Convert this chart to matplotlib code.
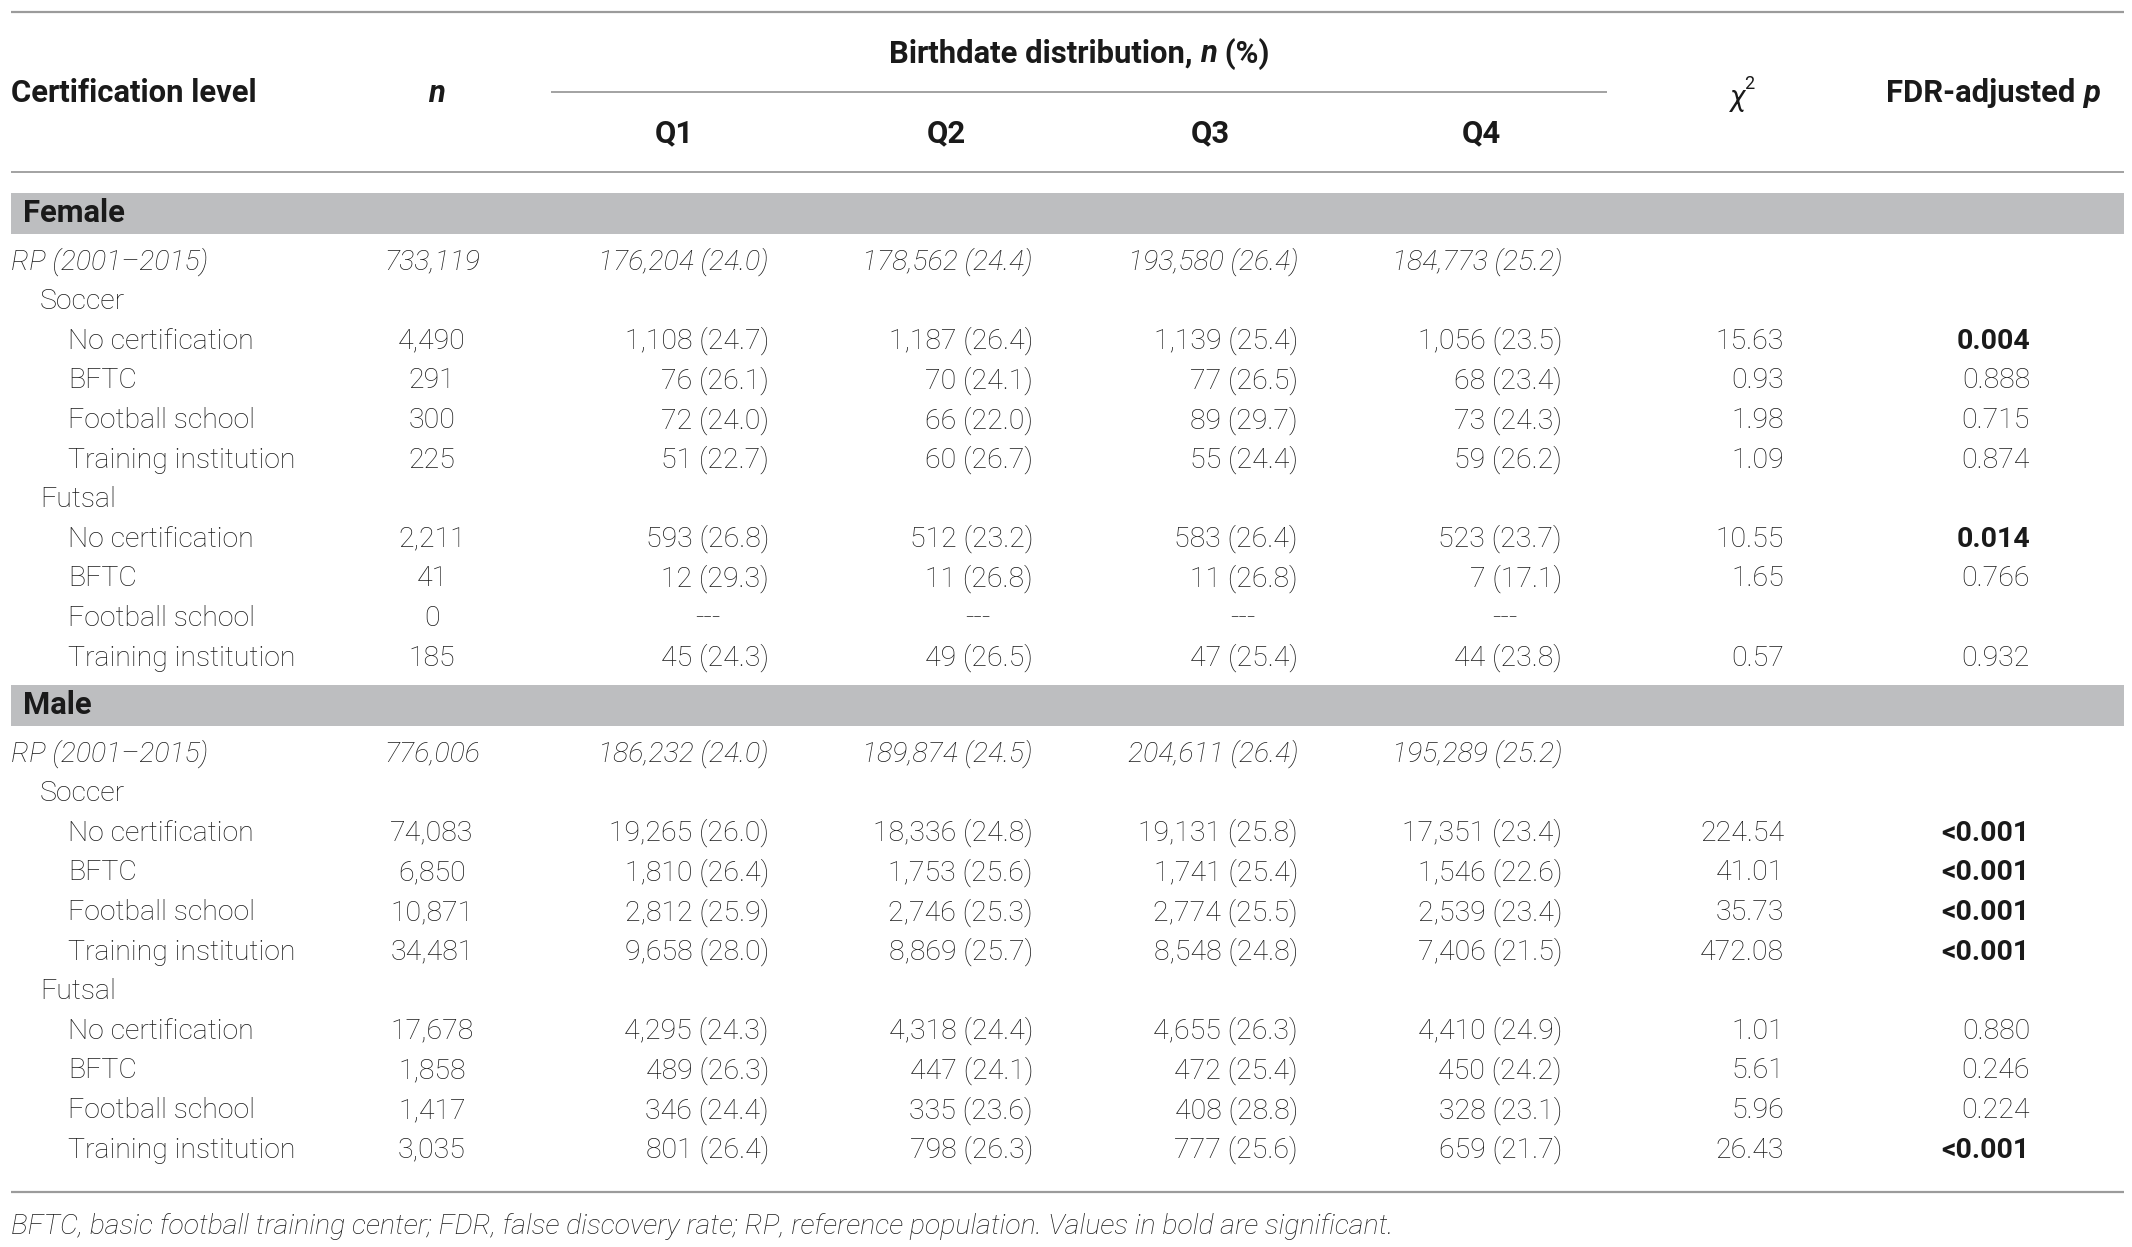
import matplotlib
matplotlib.use("Agg")
import matplotlib.pyplot as plt

# ---- table data ----
col_headers = ["Q1", "Q2", "Q3", "Q4"]

sections = ["Female", "Male"]

row_labels = ["RP (2001\u20132015)", "Soccer", "No certification", "BFTC", "Football school",
              "Training institution", "Futsal", "No certification", "BFTC", "Football school",
              "Training institution"]
row_indent = [0, 1, 2, 2, 2, 2, 1, 2, 2, 2, 2]

female_n = ["733,119", "", "4,490", "291", "300", "225", "", "2,211", "41", "0", "185"]
female_q1 = ["176,204 (24.0)", "", "1,108 (24.7)", "76 (26.1)", "72 (24.0)", "51 (22.7)", "",
             "593 (26.8)", "12 (29.3)", "---", "45 (24.3)"]
female_q2 = ["178,562 (24.4)", "", "1,187 (26.4)", "70 (24.1)", "66 (22.0)", "60 (26.7)", "",
             "512 (23.2)", "11 (26.8)", "---", "49 (26.5)"]
female_q3 = ["193,580 (26.4)", "", "1,139 (25.4)", "77 (26.5)", "89 (29.7)", "55 (24.4)", "",
             "583 (26.4)", "11 (26.8)", "---", "47 (25.4)"]
female_q4 = ["184,773 (25.2)", "", "1,056 (23.5)", "68 (23.4)", "73 (24.3)", "59 (26.2)", "",
             "523 (23.7)", "7 (17.1)", "---", "44 (23.8)"]
female_chi = ["", "", "15.63", "0.93", "1.98", "1.09", "", "10.55", "1.65", "", "0.57"]
female_p = ["", "", "0.004", "0.888", "0.715", "0.874", "", "0.014", "0.766", "", "0.932"]
female_sig = [False, False, True, False, False, False, False, True, False, False, False]

male_n = ["776,006", "", "74,083", "6,850", "10,871", "34,481", "", "17,678", "1,858", "1,417", "3,035"]
male_q1 = ["186,232 (24.0)", "", "19,265 (26.0)", "1,810 (26.4)", "2,812 (25.9)", "9,658 (28.0)", "",
           "4,295 (24.3)", "489 (26.3)", "346 (24.4)", "801 (26.4)"]
male_q2 = ["189,874 (24.5)", "", "18,336 (24.8)", "1,753 (25.6)", "2,746 (25.3)", "8,869 (25.7)", "",
           "4,318 (24.4)", "447 (24.1)", "335 (23.6)", "798 (26.3)"]
male_q3 = ["204,611 (26.4)", "", "19,131 (25.8)", "1,741 (25.4)", "2,774 (25.5)", "8,548 (24.8)", "",
           "4,655 (26.3)", "472 (25.4)", "408 (28.8)", "777 (25.6)"]
male_q4 = ["195,289 (25.2)", "", "17,351 (23.4)", "1,546 (22.6)", "2,539 (23.4)", "7,406 (21.5)", "",
           "4,410 (24.9)", "450 (24.2)", "328 (23.1)", "659 (21.7)"]
male_chi = ["", "", "224.54", "41.01", "35.73", "472.08", "", "1.01", "5.61", "5.96", "26.43"]
male_p = ["", "", "<0.001", "<0.001", "<0.001", "<0.001", "", "0.880", "0.246", "0.224", "<0.001"]
male_sig = [False, False, True, True, True, True, False, False, False, False, True]

footnote = ("BFTC, basic football training center; FDR, false discovery rate; "
            "RP, reference population. Values in bold are significant.")

# ---- layout ----
W, H = 2132, 1247
FONT = ["Roboto", "DejaVu Sans"]
FS = 20.5      # body text
FS_HEAD = 22.3 # column headers and section names
TXT = "#1a1a1a"
RULE = "#9b9b9b"
BAND = "#bdbec0"

fig = plt.figure(figsize=(W / 100, H / 100), dpi=100)
ax = fig.add_axes([0, 0, 1, 1])
ax.set_xlim(0, W)
ax.set_ylim(H, 0)
ax.axis("off")

x_left = 11
x_right = 2124
indent_px = [11, 40, 68]
x_n = 432
q_right = [769, 1033, 1298, 1562]
q_head = [674, 946, 1210, 1481]
q_dash = [708, 978, 1243, 1505]
x_chi = 1784
x_p = 2030

def txt(x, y, s, ha="left", weight="light", style="normal", size=FS):
    return ax.text(x, y, s, ha=ha, va="center", fontsize=size, family=FONT,
                   fontweight=weight, fontstyle=style, color=TXT)

renderer = fig.canvas.get_renderer()

def runs(x, y, parts, ha="center", size=FS_HEAD):
    # parts: list of (text, weight, style); placed one after another
    objs = [txt(0, y, p[0], weight=p[1], style=p[2], size=size) for p in parts]
    widths = [o.get_window_extent(renderer).width for o in objs]
    total = sum(widths)
    start = x - total / 2 if ha == "center" else (x - total if ha == "right" else x)
    for o, w in zip(objs, widths):
        o.set_x(start)
        start += w

# rules
ax.plot([x_left, x_right], [12, 12], color=RULE, lw=1.6, solid_capstyle="butt")
ax.plot([551, 1607], [92, 92], color=RULE, lw=1.3, solid_capstyle="butt")
ax.plot([x_left, x_right], [172, 172], color=RULE, lw=1.3, solid_capstyle="butt")
ax.plot([x_left, x_right], [1192, 1192], color=RULE, lw=1.6, solid_capstyle="butt")

# header
txt(x_left, 93, "Certification level", weight="bold", size=FS_HEAD)
txt(x_n + 4, 93, "n", ha="center", weight="bold", style="italic", size=FS_HEAD)
runs(1079, 54, [("Birthdate distribution, ", "bold", "normal"), ("n", "bold", "italic"),
                (" (%)", "bold", "normal")])
for xh, lab in zip(q_head, col_headers):
    txt(xh, 133, lab, ha="center", weight="bold", size=FS_HEAD)
txt(1738, 98, "\u03c7", ha="center", style="italic", weight="normal", size=FS + 1)
txt(1744, 84, "2", ha="left", weight="normal", size=13)
runs(1993, 93, [("FDR-adjusted ", "bold", "normal"), ("p", "bold", "italic")])

pitch = 39.6
band_h = 41
sec_data = [
    (213, female_n, [female_q1, female_q2, female_q3, female_q4], female_chi, female_p, female_sig),
    (705, male_n, [male_q1, male_q2, male_q3, male_q4], male_chi, male_p, male_sig),
]
for name, (yb, ns, qs, chis, ps, sigs) in zip(sections, sec_data):
    ax.add_patch(plt.Rectangle((x_left, yb - band_h / 2), x_right - x_left, band_h,
                               color=BAND, lw=0))
    txt(23, yb, name, weight="bold", size=FS_HEAD)
    for i, lab in enumerate(row_labels):
        y = yb + 49 + i * pitch
        italic = "italic" if i == 0 else "normal"
        txt(indent_px[row_indent[i]], y, lab, style=italic)
        if ns[i]:
            txt(x_n, y, ns[i], ha="center", style=italic)
        for k in range(4):
            v = qs[k][i]
            if v == "---":
                txt(q_dash[k], y, v, ha="center")
            elif v:
                txt(q_right[k], y, v, ha="right", style=italic)
        if chis[i]:
            txt(x_chi, y, chis[i], ha="right")
        if ps[i]:
            txt(x_p, y, ps[i], ha="right", weight="bold" if sigs[i] else "light")

txt(x_left, 1227, footnote, style="italic")

fig.savefig("out.png", dpi=100, facecolor="white")
